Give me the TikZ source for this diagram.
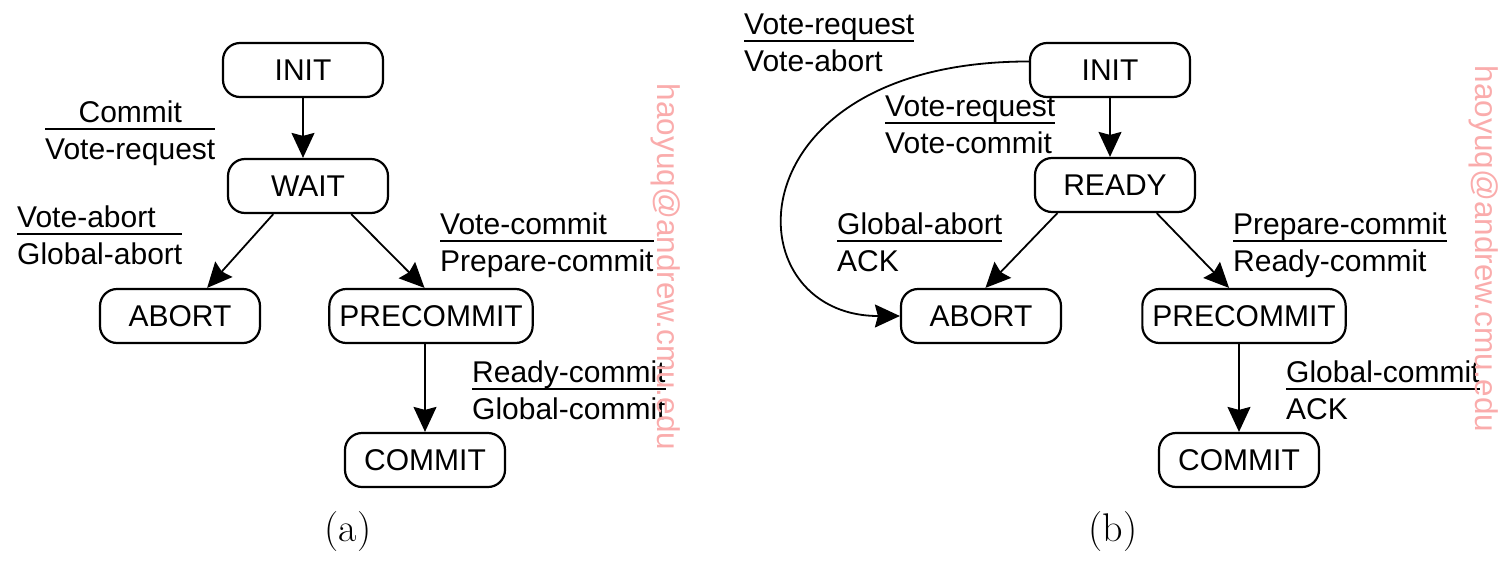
\documentclass[tikz,border=0pt]{standalone}
\usepackage{fontspec}
\setsansfont{Liberation Sans}
\usetikzlibrary{arrows.meta}

\renewcommand{\arraystretch}{0}
\setlength{\arrayrulewidth}{2pt}
\definecolor{wmark}{RGB}{250,172,172}

% message pair: received / sent, split by a rule
\newcommand{\msg}[2]{\begin{tabular}{@{}l@{}}\rule[-6pt]{0pt}{28pt}#1\\\hline\rule[-8pt]{0pt}{37pt}#2\end{tabular}}
\newcommand{\msgc}[2]{\begin{tabular}{@{}l@{}}\multicolumn{1}{@{}c@{}}{\rule[-6pt]{0pt}{28pt}#1}\\\hline\rule[-8pt]{0pt}{37pt}#2\end{tabular}}

\tikzset{
  state/.style={draw, line width=2.2pt, rounded corners=17pt, minimum width=160pt,
    minimum height=54pt, inner xsep=10pt, font=\sffamily\fontsize{30}{36}\selectfont},
  msgbox/.style={anchor=north west, inner sep=0pt, font=\sffamily\fontsize{30}{36}\selectfont},
  arr/.style={line width=1.8pt, -{Stealth[length=25pt,width=23pt,inset=3pt]}},
  wm/.style={text=wmark, rotate=-90, inner sep=0pt, font=\sffamily\fontsize{31.5}{36}\selectfont}
}

\begin{document}
\begin{tikzpicture}[x=1pt, y=-1pt]
  \useasboundingbox (0,0) rectangle (1510,568);

  % --- (a) coordinator ---
  \node[state] (ainit) at (303,70) {INIT};
  \node[state] (await) at (308,186) {WAIT};
  \node[state] (aabort) at (180,316) {ABORT};
  \node[state] (aprecommit) at (431,316) {PRECOMMIT};
  \node[state] (acommit) at (425,460) {COMMIT};

  \draw[arr] (ainit) -- (ainit |- await.north);
  \draw[arr] (await.-141) -- (aabort.46);
  \draw[arr] (await.-33) -- (aprecommit.103);
  \draw[arr] (aprecommit.south -| acommit) -- (acommit);

  \node[msgbox] (acv) at (45,100) {\msgc{Commit}{Vote-request}};
  \node[msgbox] (aag) at (17,205) {\msg{Vote-abort}{Global-abort}};
  \node[msgbox] (avp) at (440,212) {\msg{Vote-commit}{Prepare-commit}};
  \node[msgbox] (arg) at (472,360) {\msg{Ready-commit}{Global-commit}};

  % --- (b) participant ---
  \node[state] (binit) at (1110,70) {INIT};
  \node[state] (bready) at (1115,185) {READY};
  \node[state] (babort) at (981,316) {ABORT};
  \node[state] (bprecommit) at (1244,316) {PRECOMMIT};
  \node[state] (bcommit) at (1239,460) {COMMIT};

  \draw[arr] (binit) -- (binit |- bready.north);
  \draw[arr] (bready.-154) -- (babort.81);
  \draw[arr] (bready.-34) -- (bprecommit.118);
  \draw[arr] (bprecommit.south -| bcommit) -- (bcommit);
  \draw[arr] (binit.174) .. controls +(-300,0) and +(-170,0) .. (babort.west);

  \node[msgbox] (bva) at (744,12) {\msg{Vote-request}{Vote-abort}};
  \node[msgbox] (bvc) at (885,94) {\msg{Vote-request}{Vote-commit}};
  \node[msgbox] (bga) at (837,212) {\msg{Global-abort}{ACK}};
  \node[msgbox] (bpr) at (1233,212) {\msg{Prepare-commit}{Ready-commit}};
  \node[msgbox] (bgk) at (1286,360) {\msg{Global-commit}{ACK}};

  % --- captions and watermark ---
  \foreach \n/\x/\t in {capa/348/a, capb/1113/b} {
    \node[font=\fontsize{40}{44}\selectfont] (\n) at (\x,532) {(\t)};
  }
  \foreach \n/\x/\y in {wma/666/267, wmb/1484/249} {
    \node[wm] (\n) at (\x,\y) {haoyuq@andrew.cmu.edu};
  }
\end{tikzpicture}
\end{document}
